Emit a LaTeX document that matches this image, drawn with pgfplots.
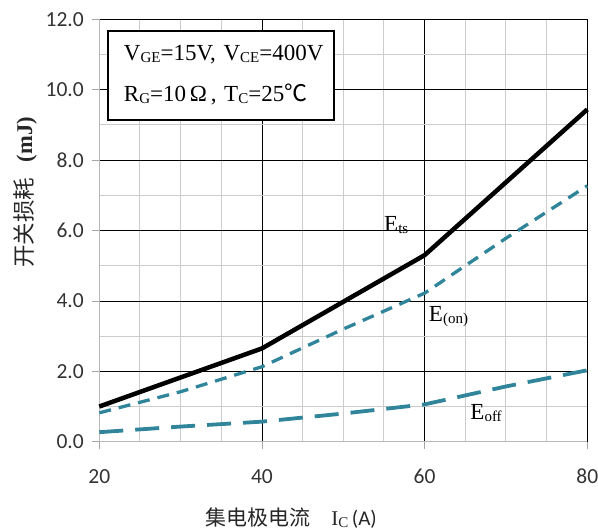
\documentclass[border=0pt]{standalone}
\usepackage{pgfplots}
\pgfplotsset{compat=1.18}
\usepackage{fontspec}
\setmainfont{Liberation Serif}
\newfontfamily\cjk{Noto Sans CJK SC}
\newfontfamily\calib{Carlito}
\definecolor{tealc}{RGB}{49,133,155}
\newcommand\sub[1]{{\fontsize{15pt}{15pt}\selectfont\raisebox{-1.5pt}{#1}}}
\begin{document}
\begin{tikzpicture}
\begin{axis}[
  scale only axis, width=488pt, height=422.4pt,
  xmin=20, xmax=80, ymin=0, ymax=12,
  xtick={20,40,60,80}, minor x tick num=3,
  ytick={0,2,4,6,8,10,12}, minor y tick num=1,
  grid=both,
  major grid style={black, line width=0.7pt},
  minor grid style={gray!40, line width=1pt},
  axis x line*=bottom, axis y line*=left,
  axis line style={gray!55, line width=1pt, -},
  tick style={gray!70, line width=0.8pt},
  tick align=outside, major tick length=7pt, minor tick length=0pt,
  /pgf/number format/assume math mode=true,
  ticklabel style={font=\calib\fontsize{21.5pt}{24pt}\selectfont, text=black!80},
  yticklabel style={/pgf/number format/.cd, fixed, fixed zerofill, precision=1, /tikz/.cd, xshift=-5pt},
  xticklabel style={yshift=-17pt},
  xlabel={{\cjk 集电极电流}\hspace{1em}I\sub{C}\,{\calib (A)}},
  xlabel style={at={(axis description cs:0.393,0)}, anchor=base, yshift=-84pt, font=\fontsize{21pt}{24pt}\selectfont, text=black!85},
  ylabel={{\cjk 开关损耗}\hspace{0.7em}\textbf{(mJ)}},
  ylabel style={at={(axis description cs:-0.152,0.59)}, anchor=center, font=\fontsize{22.5pt}{24pt}\selectfont, text=black!85},
  clip=false,
]
\addplot[black, line width=4.5pt] coordinates {(20,1.0) (40,2.65) (60,5.3) (80,9.44)};
\addplot[tealc, line width=3.3pt, dash pattern=on 12pt off 8pt] coordinates {(20,0.82) (30,1.42) (40,2.13) (50,3.2) (60,4.22) (70,5.78) (80,7.27)};
\addplot[tealc, line width=3.8pt, dash pattern=on 24pt off 12pt] coordinates {(20,0.27) (30,0.43) (40,0.57) (50,0.8) (60,1.06) (70,1.57) (80,2.03)};
\node[draw, line width=1.8pt, fill=white, anchor=north west, minimum width=226pt, minimum height=89pt, inner xsep=10pt, inner ysep=0pt, text width=206pt, align=left, font=\fontsize{23pt}{41pt}\selectfont] at (axis cs:20.95,11.7)
  {\hspace*{6pt}V\sub{GE}=15V, V\sub{CE}=400V\\\hspace*{6pt}R\sub{G}=10\,Ω\,, T\sub{C}=25{\cjk ℃}};
\node[anchor=base west, font=\fontsize{23pt}{24pt}\selectfont] at (axis cs:54.6,5.97) {E\sub{ts}};
\node[anchor=base west, font=\fontsize{23pt}{24pt}\selectfont] at (axis cs:60.1,3.41) {E\sub{(on)}};
\node[anchor=base west, font=\fontsize{23pt}{24pt}\selectfont] at (axis cs:65.2,0.62) {E\sub{off}};
\end{axis}
\pgfresetboundingbox
\path[use as bounding box] ([shift={(-99.3pt,-88.3pt)}]current axis.south west) rectangle ([shift={(10.7pt,19.3pt)}]current axis.north east);
\end{tikzpicture}
\end{document}
